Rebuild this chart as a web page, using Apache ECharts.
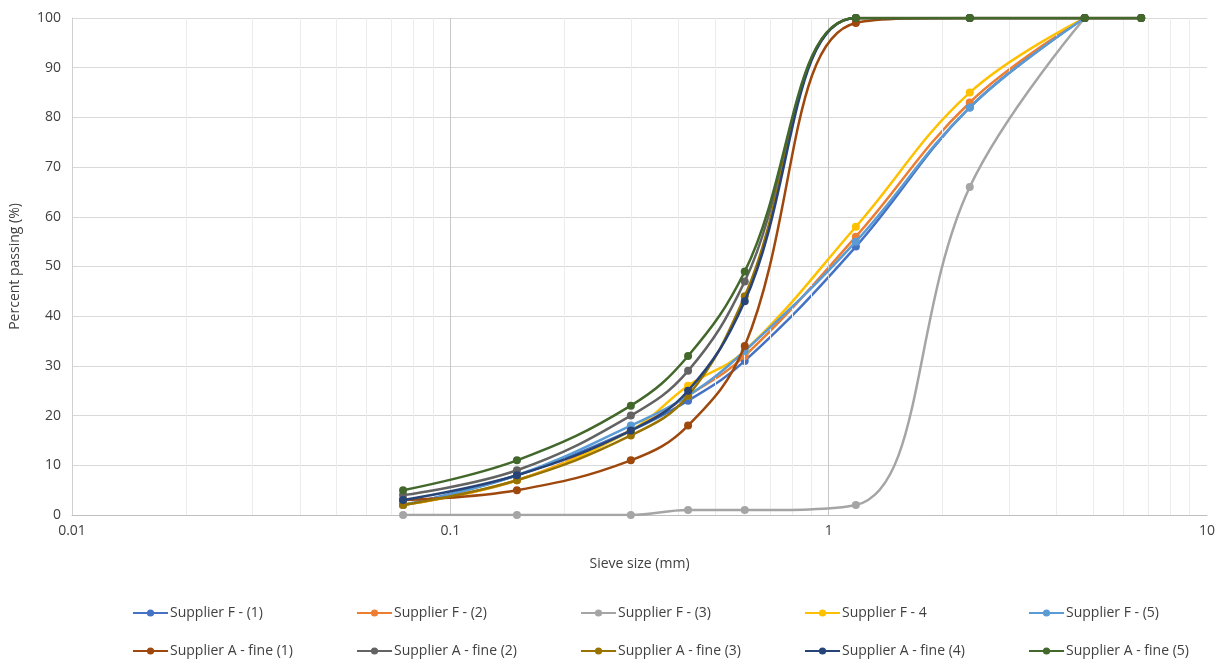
<!DOCTYPE html>
<html>
<head>
<meta charset="utf-8">
<script src="https://cdn.jsdelivr.net/npm/echarts@6/dist/echarts.min.js"></script>
<style>
html,body{margin:0;padding:0;background:#fff;}
#chart{width:1220px;height:659px;}
</style>
</head>
<body>
<div id="chart"></div>
<script>
const sieveSizes = [0.075, 0.15, 0.3, 0.425, 0.6, 1.18, 2.36, 4.75, 6.7];
const seriesNames = [
  'Supplier F - (1)', 'Supplier F - (2)', 'Supplier F - (3)', 'Supplier F - 4', 'Supplier F - (5)',
  'Supplier A - fine (1)', 'Supplier A - fine (2)', 'Supplier A - fine (3)', 'Supplier A - fine (4)', 'Supplier A - fine (5)'
];
const supplierF1 = [2, 8, 17, 23, 31, 54, 82, 100];
const supplierF2 = [2, 7, 17, 24, 32, 56, 83, 100];
const supplierF3 = [0, 0, 0, 1, 1, 2, 66, 100];
const supplierF4 = [2, 7, 17, 26, 33, 58, 85, 100];
const supplierF5 = [2, 8, 18, 24, 33, 55, 82, 100];
const supplierA1 = [3, 5, 11, 18, 34, 99, 100, 100, 100];
const supplierA2 = [4, 9, 20, 29, 47, 100, 100, 100, 100];
const supplierA3 = [2, 7, 16, 24, 44, 100, 100, 100, 100];
const supplierA4 = [3, 8, 17, 25, 43, 100, 100, 100, 100];
const supplierA5 = [5, 11, 22, 32, 49, 100, 100, 100, 100];
const xTickLabels = ['0.01', '0.1', '1', '10'];
const yTicks = [0, 10, 20, 30, 40, 50, 60, 70, 80, 90, 100];
const minorGridValues = [0.02,0.03,0.04,0.05,0.06,0.07,0.08,0.09,0.2,0.3,0.4,0.5,0.6,0.7,0.8,0.9,2,3,4,5,6,7,8,9];
const majorGridValues = [0.1, 1];

const colors = ['#4472C4','#ED7D31','#A5A5A5','#FFC000','#5B9BD5','#9E480E','#636363','#997300','#264478','#43682B'];
const allData = [supplierF1, supplierF2, supplierF3, supplierF4, supplierF5, supplierA1, supplierA2, supplierA3, supplierA4, supplierA5];

const font = 'Open Sans';
const txt = '#404040';

const series = [];
series.push({
  type: 'line', name: '_grid', data: [], silent: true, z: 1,
  markLine: {
    silent: true, symbol: 'none', label: {show: false},
    lineStyle: {color: '#ececec', width: 1, type: 'solid'},
    data: minorGridValues.map(v => ({xAxis: v}))
  }
});
series.push({
  type: 'line', name: '_grid2', data: [], silent: true, z: 1,
  markLine: {
    silent: true, symbol: 'none', label: {show: false},
    lineStyle: {color: '#c8c8c8', width: 1, type: 'solid'},
    data: majorGridValues.map(v => ({xAxis: v}))
  }
});
seriesNames.forEach((n, i) => {
  series.push({
    name: n, type: 'line', smooth: 0.4, z: 3 + i,
    symbol: 'circle', symbolSize: 8,
    lineStyle: {width: 2.5, color: colors[i]},
    itemStyle: {color: colors[i]},
    data: allData[i].map((v, k) => [sieveSizes[k], v])
  });
});

const legends = seriesNames.map((n, i) => ({
  left: 127 + 224 * (i % 5), top: i < 5 ? 601 : 639,
  itemWidth: 35, itemHeight: 9, itemGap: 0,
  textStyle: {fontFamily: font, fontSize: 14, color: txt, padding: [0, 0, 0, -3]},
  selectedMode: false,
  data: [n]
}));

const option = {
  animation: false,
  color: colors,
  grid: {left: 69, right: 13, top: 18, bottom: 144, containLabel: false},
  xAxis: {
    type: 'log', logBase: 10, min: 0.01, max: 10,
    name: 'Sieve size (mm)', nameLocation: 'middle', nameGap: 42,
    nameTextStyle: {fontFamily: font, fontSize: 14, color: txt},
    axisLine: {lineStyle: {color: '#bfbfbf'}},
    axisTick: {show: false},
    axisLabel: {fontFamily: font, fontSize: 14, color: txt, margin: 9,
      formatter: v => { const s = String(+v.toPrecision(3)); return xTickLabels.includes(s) ? s : ''; }},
    splitLine: {show: false}
  },
  yAxis: {
    type: 'value', min: 0, max: 100, interval: 10,
    name: 'Percent passing (%)', nameLocation: 'middle', nameGap: 50, nameRotate: 90,
    nameTextStyle: {fontFamily: font, fontSize: 14, color: txt},
    axisLine: {show: true, lineStyle: {color: '#d0d0d0'}},
    axisTick: {show: false},
    axisLabel: {fontFamily: font, fontSize: 14, color: txt, margin: 11,
      formatter: v => yTicks.includes(v) ? String(v) : ''},
    splitLine: {lineStyle: {color: '#d9d9d9'}}
  },
  legend: legends,
  series: series
};

const chart = echarts.init(document.getElementById('chart'), null, {renderer: 'canvas'});
chart.setOption(option);
</script>
</body>
</html>
